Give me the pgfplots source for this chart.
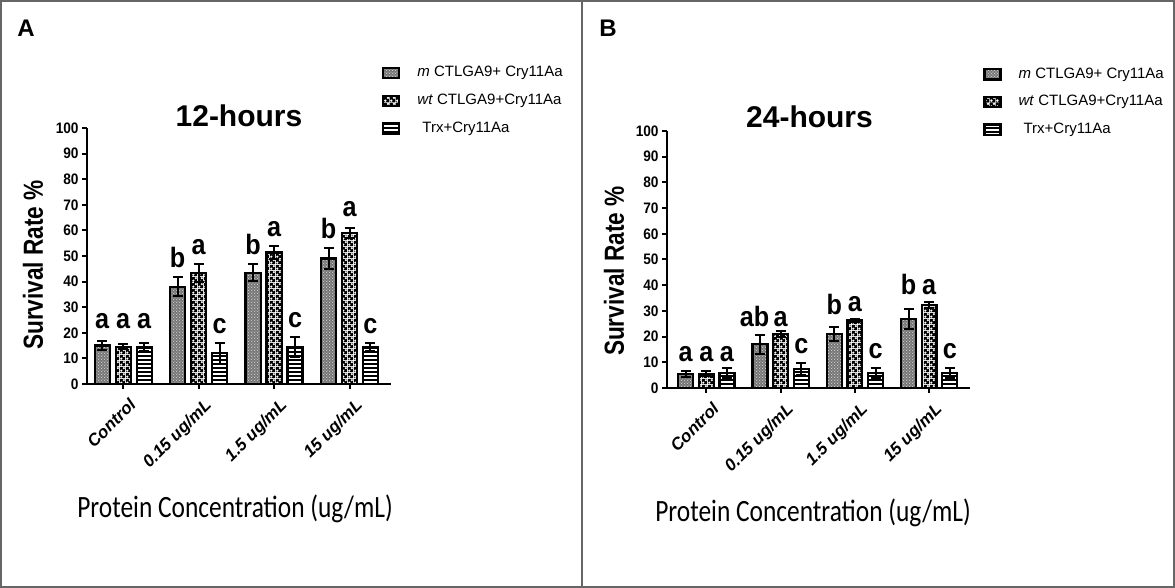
\documentclass[border=0pt]{standalone}
\usepackage{pgfplots}
\pgfplotsset{compat=1.18}
\usepackage{pgfplotstable}
\usetikzlibrary{patterns,patterns.meta}
\usepackage{fontspec}
\setmainfont{Liberation Sans}
\newfontfamily\nar[FakeStretch=0.9]{Liberation Sans}
\newfontfamily\narr[FakeStretch=0.82]{Liberation Sans}
\newfontfamily\calib[FakeStretch=0.82]{Carlito}

\tikzdeclarepattern{
  name=wtdots,
  type=uncolored,
  bottom left={(0pt,0pt)},
  top right={(3pt,3pt)},
  tile size={(3pt,3pt)},
  code={
    \fill[even odd rule] (0pt,0pt) rectangle (3pt,3pt)
      (0.75pt,0.75pt) circle [radius=0.85pt]
      (2.25pt,2.25pt) circle [radius=0.85pt];
  }
}
\tikzdeclarepattern{
  name=mdots,
  type=uncolored,
  bottom left={(0pt,0pt)},
  top right={(1.6pt,1.6pt)},
  tile size={(1.6pt,1.6pt)},
  code={
    \fill (0.4pt,0.4pt) circle [radius=0.33pt];
    \fill (1.2pt,1.2pt) circle [radius=0.33pt];
  }
}

\pgfplotstableread{
x m me wt wte trx trxe
0 15 1.7 14.5 1 14.5 1.5
1 38 3.7 43.5 3.5 12 4
2 43.5 3.3 51.4 2.4 14.5 4
3 49 4 59 2 14.5 1.5
}\dataA

\pgfplotstableread{
x m me wt wte trx trxe
0 5.5 1.2 5.5 1 5.8 2
1 17 3.6 21 1 7.4 2.4
2 21 2.7 26.3 0.6 5.8 2
3 26.9 3.8 32.3 1.3 5.8 2
}\dataB

\pgfplotstableread{
x y l
-0.278 20.5 a
0 20.5 a
0.278 20.5 a
0.722 44.3 b
1 49.6 a
1.278 18.7 c
1.722 49.4 b
2 56.4 a
2.278 21.1 c
2.722 55.6 b
3 64.4 a
3.278 18.6 c
}\labA

\pgfplotstableread{
x y l
-0.278 9.2 a
0 9.2 a
0.278 9.2 a
0.65 23 ab
1 23 a
1.278 12.4 c
1.722 27.5 b
2 28.8 a
2.278 10.4 c
2.722 35.4 b
3 35.4 a
3.278 10.4 c
}\labB

\pgfplotsset{
  mybar/.style={
    ybar, bar width=0.2, bar shift=0, draw=black, line width=1.1pt,
    legend image code/.code={
      \draw[##1, line width=1.1pt] (0pt,-2.6pt) rectangle (8pt,2.6pt);
      \path (0pt,0pt) (16pt,0pt);
    },
    /pgfplots/error bars/y dir=both,
    /pgfplots/error bars/y explicit,
    /pgfplots/error bars/error bar style={line width=1pt, black},
    /pgfplots/error bars/error mark options={rotate=90, mark size=2.5pt, line width=1pt, black},
  },
  mstyle/.style={mybar, fill=black!55, postaction={pattern=mdots, pattern color=white!90!black}},
  panel/.style={
    scale only axis,
    axis lines=left,
    axis line style={-, line width=1pt},
    tick style={black, line width=1pt},
    major tick length=2.5pt,
    tick align=outside,
    ymin=0, ymax=100,
    ytick={0,10,...,100},
    xmax=3.55,
    xtick={0,1,2,3},
    xticklabels={Control, 0.15 ug/mL, 1.5 ug/mL, 15 ug/mL},
    /pgf/number format/assume math mode=true,
    yticklabel style={font=\nar\bfseries\fontsize{7.6}{8}\selectfont, inner sep=1.5pt},
    xticklabel style={rotate=45, anchor=north east, inner sep=1pt, yshift=-3.5pt, xshift=0pt,
      font=\bfseries\itshape\fontsize{8.5}{9}\selectfont},
    every axis title/.style={at={(0.5,1)}, anchor=base,
      font=\bfseries\fontsize{15}{16}\selectfont},
    ylabel={Survival Rate \%},
    ylabel style={font=\narr\bfseries\fontsize{13.8}{15}\selectfont, anchor=center},
    xlabel={Protein Concentration (ug/mL)},
    xlabel style={font=\calib\fontsize{15.5}{17}\selectfont, anchor=base},
    legend cell align=left,
    legend style={draw=none, fill=none, anchor=north west, inner sep=0pt,
      row sep=6.1pt, font=\fontsize{7.5}{9}\selectfont,
      nodes={inner sep=0.5pt}},
    clip=false,
  },
  lets/.style={draw=none, mark=none, forget plot, nodes near coords,
    point meta=explicit symbolic,
    nodes near coords style={anchor=south, inner sep=1pt, text=black,
      font=\nar\bfseries\fontsize{14}{15}\selectfont}},
}

\begin{document}
\begin{tikzpicture}
\path[use as bounding box] (0pt,0pt) rectangle (587.5pt,294pt);
\draw[line width=1.2pt, black!60] (0.6pt,0.6pt) rectangle (586.9pt,293.4pt);
\draw[line width=1.2pt, black!60] (291pt,0pt) -- (291pt,294pt);
\node[anchor=base west, inner sep=0pt, font=\bfseries\fontsize{12}{14}\selectfont] at (8.5pt,275.5pt) {A};
\node[anchor=base west, inner sep=0pt, font=\bfseries\fontsize{12}{14}\selectfont] at (299.5pt,275.5pt) {B};

\begin{axis}[panel,
  at={(43.5pt,102pt)}, anchor=south west,
  width=152pt, height=128pt,
  xmin=-0.48,
  title={12-hours},
  title style={yshift=0.5pt},
  ylabel style={at={(axis description cs:-0.178,0.465)}},
  xlabel style={at={(axis description cs:0.487,-0.523)}},
  legend style={at={(axis description cs:0.97,1.246)}},
]
\addplot[mstyle]
  table[x expr=\thisrow{x}-0.278, y=m, y error=me] {\dataA};
\addplot[mybar, pattern=wtdots, pattern color=black]
  table[x=x, y=wt, y error=wte] {\dataA};
\addplot[mybar, pattern={Lines[angle=0,distance=2pt,line width=0.6pt]}, pattern color=black]
  table[x expr=\thisrow{x}+0.278, y=trx, y error=trxe] {\dataA};
\legend{\textit{m} CTLGA9+ Cry11Aa, \textit{wt} CTLGA9+Cry11Aa, \hspace{2.5pt}Trx+Cry11Aa}
\addplot[lets] table[x=x, y=y, meta=l] {\labA};
\end{axis}

\begin{axis}[panel,
  at={(333.5pt,100pt)}, anchor=south west,
  width=151.5pt, height=128.5pt,
  xmin=-0.53,
  title={24-hours},
  title style={yshift=1.5pt, xshift=-4.5pt},
  ylabel style={at={(axis description cs:-0.175,0.455)}},
  xlabel style={at={(axis description cs:0.482,-0.521)}},
  legend style={at={(axis description cs:1.043,1.252)}},
]
\addplot[mstyle]
  table[x expr=\thisrow{x}-0.278, y=m, y error=me] {\dataB};
\addplot[mybar, pattern=wtdots, pattern color=black]
  table[x=x, y=wt, y error=wte] {\dataB};
\addplot[mybar, pattern={Lines[angle=0,distance=2pt,line width=0.6pt]}, pattern color=black]
  table[x expr=\thisrow{x}+0.278, y=trx, y error=trxe] {\dataB};
\legend{\textit{m} CTLGA9+ Cry11Aa, \textit{wt} CTLGA9+Cry11Aa, \hspace{2.5pt}Trx+Cry11Aa}
\addplot[lets] table[x=x, y=y, meta=l] {\labB};
\end{axis}
\end{tikzpicture}
\end{document}
